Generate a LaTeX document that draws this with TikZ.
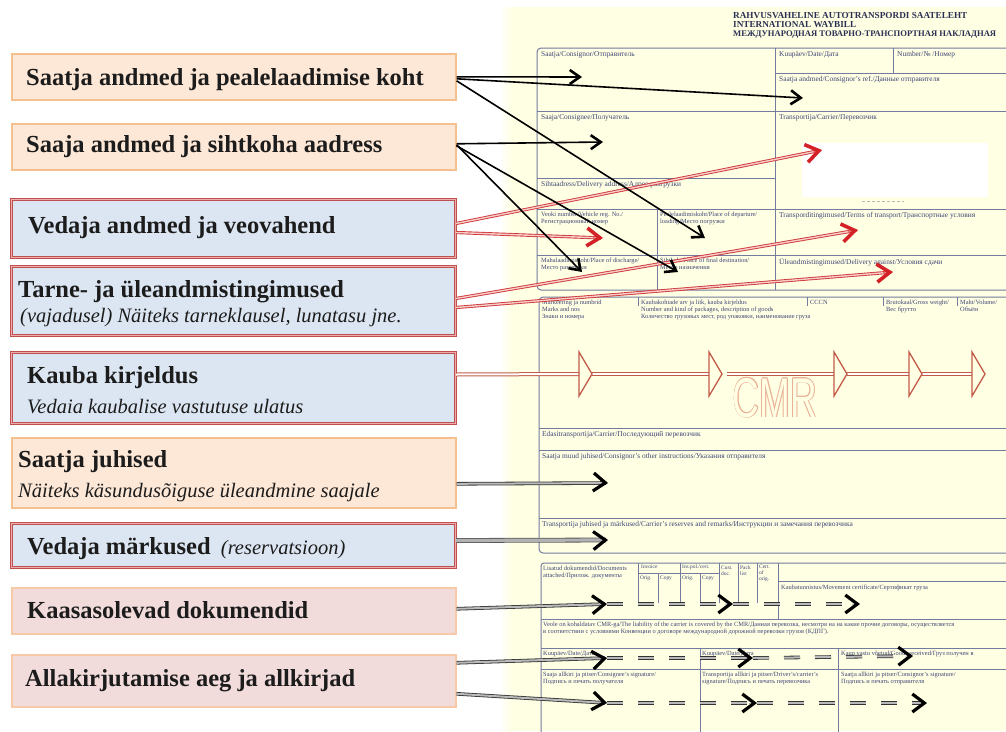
\documentclass[tikz,border=0pt]{standalone}
\usepackage{fontspec}
\setmainfont{Liberation Serif}
\setsansfont{Liberation Sans}
\usetikzlibrary{arrows.meta,calc}

\definecolor{peachfill}{HTML}{FDE7D6}
\definecolor{peachline}{HTML}{F6C08E}
\definecolor{bluefill}{HTML}{DCE6F2}
\definecolor{redline}{HTML}{C0504D}
\definecolor{redinner}{HTML}{EBB0AE}
\definecolor{pinkfill}{HTML}{F2DCDB}
\definecolor{pinkline}{HTML}{F7C9A6}
\definecolor{paper}{HTML}{FFFFE3}
\definecolor{formline}{HTML}{737B9E}
\definecolor{formtext}{HTML}{3F4676}
\definecolor{arrowred}{HTML}{D42027}
\definecolor{shaftred}{HTML}{D0393C}
\definecolor{redcore}{HTML}{F6CDC8}
\definecolor{goodsred}{HTML}{C25B4A}
\definecolor{cmrtint}{HTML}{EBB196}
\definecolor{ink}{HTML}{1C1C1C}

\begin{document}
\begin{tikzpicture}[x=1pt,y=-1pt,
  box/.style={anchor=north west, inner sep=0pt, minimum width=444pt},
  peachbox/.style={box, fill=peachfill, draw=peachline, line width=1.6pt},
  bluebox/.style={box, fill=bluefill, draw=redline, double=redinner, double distance=0.9pt, line width=1pt},
  pinkbox/.style={box, fill=pinkfill, draw=pinkline, line width=1.6pt},
  headtext/.style={anchor=base west, inner sep=0pt, text=ink, font=\bfseries\fontsize{24.5}{25}\selectfont},
  subtext/.style={anchor=base west, inner sep=0pt, text=ink, font=\itshape\fontsize{20.5}{21}\selectfont},
  formlabel/.style={anchor=north west, inner sep=0pt, text=formtext, align=left, font=\fontsize{6.4}{7}\selectfont},
  biglabel/.style={formlabel, font=\fontsize{7.4}{7.8}\selectfont},
  celllabel/.style={formlabel, font=\fontsize{5.4}{5.8}\selectfont},
  formtitle/.style={anchor=base west, inner sep=0pt, text=formtext!70!black, font=\bfseries\fontsize{9.2}{9.5}\selectfont},
  grid/.style={draw=formline, line width=1pt},
  cmrtext/.style={anchor=base, inner sep=0pt, xscale=0.66, font=\sffamily\fontsize{56}{56}\selectfont},
  blackarrow/.style={draw=black, line width=1.6pt, -{Straight Barb[length=10pt,width=14pt,line width=2.6pt]}},
  redshaft/.style={draw=shaftred, double=redcore, line width=0.9pt, double distance=1.4pt, shorten >=2pt},
  redtip/.style={draw=shaftred, line width=0.4pt, -{Straight Barb[length=13pt,width=18pt,line width=3.6pt,color=arrowred]}},
  grayshaft/.style={draw=black!80, double=gray!55, line width=0.8pt, double distance=2pt, shorten >=2pt},
  thickshaft/.style={draw=black!65, double=gray!60, line width=0.8pt, double distance=3.2pt, shorten >=2pt},
  graydash/.style={grayshaft, dash pattern=on 16pt off 15pt},
  blacktip/.style={draw=gray!55, line width=0.4pt, -{Straight Barb[length=12pt,width=18pt,line width=3.2pt,color=black]}},
  goodsshaft/.style={draw=goodsred, double=white, line width=1pt, double distance=2pt},
  goodstip/.style={draw=goodsred, line width=1.3pt, line join=miter},
]
\useasboundingbox (0,0) rectangle (1006,731);
\clip (0,0) rectangle (1006,731);

% ---------- waybill sheet ----------
\fill[white] (0,0) rectangle (1006,731);
\fill[paper] (512,7) rectangle (1006,731);
\shade[left color=white, right color=paper] (500,7) rectangle (512,731);

\node[formtitle] (title1) at (733,18) {RAHVUSVAHELINE AUTOTRANSPORDI SAATELEHT};
\node[formtitle] (title2) at (733,27) {INTERNATIONAL WAYBILL};
\node[formtitle, font=\bfseries\fontsize{8.6}{9}\selectfont] (title3) at (733,36) {МЕЖДУНАРОДНАЯ ТОВАРНО-ТРАНСПОРТНАЯ НАКЛАДНАЯ};

% section 1: parties and places
\draw[grid, rounded corners=4pt] (1015,48) -- (537,48) -- (537,290) -- (1015,290);
\draw[grid] (775,48) -- (775,290);
\draw[grid] (893,48) -- (893,73);
\draw[grid] (775,73) -- (1015,73);
\draw[grid] (537,111) -- (1015,111);
\draw[grid] (537,178) -- (775,178);
\draw[grid] (537,209) -- (1015,209);
\draw[grid] (657,209) -- (657,290);
\draw[grid] (537,255) -- (1015,255);
\fill[white] (802,143) rectangle (988,197);
\draw[gray!55, line width=1pt, dash pattern=on 3pt off 2pt] (862,201) -- (904,201);

\node[biglabel] (l-consignor) at (541,51) {Saatja/Consignor/Отправитель};
\node[biglabel] (l-date) at (779,51) {Kuupäev/Date/Дата};
\node[biglabel] (l-number) at (897,51) {Number/№ /Номер};
\node[biglabel] (l-ref) at (779,76) {Saatja andmed/Consignor's ref./Данные отправителя};
\node[biglabel] (l-consignee) at (541,114) {Saaja/Consignee/Получатель};
\node[biglabel] (l-carrier) at (779,114) {Transportija/Carrier/Перевозчик};
\node[biglabel] (l-address) at (541,181) {Sihtaadress/Delivery address/Адрес разгрузки};
\node[formlabel] (l-vehicle) at (541,212) {Veoki number/Vehicle reg. No./\\Регистрационный номер};
\node[formlabel] (l-loading) at (660,212) {Pealelaadimiskoht/Place of departure/\\loading/Место погрузки};
\node[biglabel] (l-terms) at (779,212) {Transporditingimused/Terms of transport/Транспортные условия};
\node[formlabel] (l-discharge) at (541,258) {Mahalaadimiskoht/Place of discharge/\\Место разгрузки};
\node[formlabel] (l-destination) at (660,258) {Sihtkoht/Place of final destination/\\Место назначения};
\node[biglabel] (l-delivery) at (779,258) {Üleandmistingimused/Delivery against/Условия сдачи};

% section 2: goods
\draw[grid, rounded corners=4pt] (1015,297) -- (539,297) -- (539,553) -- (1015,553);
\foreach \x in {638,807,883,957} \draw[grid] (\x,297) -- (\x,306);
\draw[grid] (539,428) -- (1015,428);
\draw[grid] (539,450) -- (1015,450);
\draw[grid] (539,518) -- (1015,518);

\node[formlabel] (l-marks) at (542,300) {Markeering ja numbrid\\Marks and nos\\Знаки и номера};
\node[formlabel] (l-goods) at (641,300) {Kaubakohtade arv ja liik, kauba kirjeldus\\Number and kind of packages, description of goods\\Количество грузовых мест, род упаковки, наименование груза};
\node[formlabel] (l-cccn) at (810,300) {CCCN};
\node[formlabel] (l-weight) at (886,300) {Brutokaal/Gross weight/\\Вес брутто};
\node[formlabel] (l-volume) at (960,300) {Maht/Volume/\\Объём};
\node[biglabel] (l-next) at (542,431) {Edasitransportija/Carrier/Последующий перевозчик};
\node[biglabel] (l-instr) at (542,453) {Saatja muud juhised/Consignor's other instructions/Указания отправителя};
\node[biglabel] (l-remarks) at (542,521) {Transportija juhised ja märkused/Carrier's reserves and remarks/Инструкции и замечания перевозчика};

% hollow CMR watermark
\coordinate (cmr) at (775,417);
\foreach \dx/\dy in {-0.7/0,0.7/0,0/-0.7,0/0.7,-0.5/-0.5,0.5/0.5,-0.5/0.5,0.5/-0.5}
  \node[cmrtext, text=cmrtint] at ($(cmr)+(\dx,\dy)$) {CMR};
\node[cmrtext, text=paper] (cmrmark) at (cmr) {CMR};

% section 3: documents, liability, signatures
\draw[grid, rounded corners=3pt] (1015,563) -- (541,563) -- (541,740);
\foreach \x in {638,680,719,738,757} \draw[grid] (\x,563) -- (\x,603);
\foreach \x in {658,700} \draw[grid] (\x,573) -- (\x,603);
\draw[grid] (638,573) -- (719,573);
\draw[grid] (778,563) -- (778,619);
\draw[grid] (778,581) -- (1015,581);
\draw[grid] (541,619) -- (1015,619);
\draw[grid] (541,648) -- (1015,648);
\draw[grid] (541,669) -- (1015,669);
\draw[grid] (700,648) -- (700,740);
\draw[grid] (838,648) -- (838,740);

\node[formlabel] (l-docs) at (543,566) {Lisatud dokumendid/Documents\\attached/Прилож. документы};
\node[celllabel] (l-invoice) at (641,565) {Invoice};
\node[celllabel] (l-inv-orig) at (640,576) {Orig.};
\node[celllabel] (l-inv-copy) at (660,576) {Copy};
\node[celllabel] (l-ins) at (682,565) {Ins.pol./cert.};
\node[celllabel] (l-ins-orig) at (682,576) {Orig.};
\node[celllabel] (l-ins-copy) at (702,576) {Copy};
\node[celllabel] (l-cust) at (721,566) {Cust.\\doc.};
\node[celllabel] (l-pack) at (740,566) {Pack\\list};
\node[celllabel] (l-cert) at (759,565) {Cert.\\of\\orig.};
\node[formlabel] (l-movement) at (781,585) {Kaubatunnistus/Movement certificate/Сертификат груза};
\node[formlabel] (l-liability) at (543,622) {Veole on kohaldatav CMR-ga/The liability of the carrier is covered by the CMR/Данная перевозка, несмотря на на какие прочие договоры, осуществляется\\в соответствии с условиями Конвенции о договоре международной дорожной перевозки грузов (КДПГ).};
\node[formlabel] (l-date1) at (543,651) {Kuupäev/Date/Дата};
\node[formlabel] (l-date2) at (702,651) {Kuupäev/Date/Дата};
\node[formlabel] (l-received) at (841,651) {Kaup vastu võetud/Goods received/Груз получен в};
\node[formlabel] (l-sign1) at (543,672) {Saaja allkiri ja pitser/Consignee's signature/\\Подпись и печать получателя};
\node[formlabel] (l-sign2) at (702,672) {Transportija allkiri ja pitser/Driver's/carrier's\\signature/Подпись и печать перевозчика};
\node[formlabel] (l-sign3) at (841,672) {Saatja allkiri ja pitser/Consignor's signature/\\Подпись и печать отправителя};

% ---------- explanation boxes ----------
\node[peachbox, minimum height=46pt] (b1) at (11,53) {};
\node[peachbox, minimum height=46pt] (b2) at (11,123) {};
\node[bluebox, minimum height=58pt] (b3) at (11,199) {};
\node[bluebox, minimum height=69pt] (b4) at (11,266) {};
\node[bluebox, minimum height=71pt] (b5) at (11,352) {};
\node[peachbox, minimum height=70pt] (b6) at (11,437) {};
\node[bluebox, minimum height=44pt] (b7) at (11,523) {};
\node[pinkbox, minimum height=46pt] (b8) at (11,587) {};
\node[pinkbox, minimum height=52pt] (b9) at (11,654) {};

\node[headtext] (t1) at (26,85) {Saatja andmed ja pealelaadimise koht};
\node[headtext] (t2) at (26,152) {Saaja andmed ja sihtkoha aadress};
\node[headtext] (t3) at (28,233) {Vedaja andmed ja veovahend};
\node[headtext] (t4) at (18,297) {Tarne- ja üleandmistingimused};
\node[subtext] (t4s) at (20,322) {(vajadusel) Näiteks tarneklausel, lunatasu jne.};
\node[headtext] (t5) at (27,383) {Kauba kirjeldus};
\node[subtext] (t5s) at (27,413) {Vedaia kaubalise vastutuse ulatus};
\node[headtext] (t6) at (18,467) {Saatja juhised};
\node[subtext] (t6s) at (18,497) {Näiteks käsundusõiguse üleandmine saajale};
\node[headtext] (t7) at (27,554) {Vedaja märkused \,{\itshape\mdseries\fontsize{20.5}{21}\selectfont (reservatsioon)}};
\node[headtext] (t8) at (27,618) {Kaasasolevad dokumendid};
\node[headtext] (t9) at (25,686) {Allakirjutamise aeg ja allkirjad};

% ---------- targets on the sheet ----------
\coordinate (consignor) at (582,77);
\coordinate (consref) at (803,98);
\coordinate (loading) at (705,238);
\coordinate (consignee) at (603,142);
\coordinate (discharge) at (582,272);
\coordinate (destination) at (678,272);
\coordinate (carrier) at (822,150);
\coordinate (vehicle) at (603,238);
\coordinate (terms) at (858,230);
\coordinate (delivery) at (893,272);
\coordinate (instr) at (608,483);
\coordinate (remarks) at (608,540);
\coordinate (docs1) at (607,604);
\coordinate (docs2) at (733,604);
\coordinate (docs3) at (860,604);
\coordinate (date1) at (607,658);
\coordinate (date2) at (753,658);
\coordinate (date3) at (913,656);
\coordinate (sign1) at (607,703);
\coordinate (sign2) at (757,703);
\coordinate (sign3) at (927,703);

% ---------- carrier arrows (red) ----------
\draw[redshaft] ($(b3.east)+(0,-5)$) -- (carrier);
\draw[redtip] ($(carrier)!10pt!(b3.east)$) -- (carrier);
\draw[redshaft] ($(b3.east)+(0,4)$) -- (vehicle);
\draw[redtip] ($(vehicle)!10pt!(b3.east)$) -- (vehicle);
\draw[redshaft] ($(b4.east)+(0,-2.5)$) -- (terms);
\draw[redtip] ($(terms)!10pt!(b4.east)$) -- (terms);
\draw[redshaft] ($(b4.east)+(0,6.5)$) -- (delivery);
\draw[redtip] ($(delivery)!10pt!(b4.east)$) -- (delivery);

% ---------- goods description arrow ----------
\foreach \i/\b/\a in {1/579/592,2/709/722,3/834/847,4/909/922,5/972/985} {
  \coordinate (gb\i) at (\b,374);
  \coordinate (ga\i) at (\a,374);
}
\draw[goodsshaft] ($(b5.east)+(0,-13.5)$) -- (gb1);
\draw[goodsshaft] (ga1) -- (gb2);
\draw[goodsshaft] ($(ga2)+(5,0)$) -- (gb3);
\draw[goodsshaft] (ga3) -- (gb4);
\draw[goodsshaft] (ga4) -- (gb5);
\foreach \i in {1,...,5}
  \draw[goodstip] ($(gb\i)+(0,-22)$) -- (ga\i) -- ($(gb\i)+(0,22)$) -- cycle;

% ---------- consignor / consignee arrows (black) ----------
\draw[blackarrow] (b1.east) -- (consignor);
\draw[blackarrow] ($(b1.east)+(0,2)$) -- (consref);
\draw[blackarrow] ($(b1.east)+(0,4)$) -- (loading);
\draw[blackarrow] ($(b2.east)+(0,-3)$) -- (consignee);
\draw[blackarrow] ($(b2.east)+(0,-2)$) -- (discharge);
\draw[blackarrow] ($(b2.east)+(0,-1)$) -- (destination);

% ---------- lower arrows (grey shafts) ----------
\draw[grayshaft] ($(b6.east)+(0,11)$) -- (instr);
\draw[blacktip] ($(instr)!8pt!(b6.east)$) -- (instr);
\draw[thickshaft] ($(b7.east)+(0,-5)$) -- (remarks);
\draw[blacktip] ($(remarks)!8pt!(b7.east)$) -- (remarks);

\draw[grayshaft] ($(b8.east)+(0,-2)$) -- (docs1);
\draw[blacktip] ($(docs1)!8pt!(b8.east)$) -- (docs1);
\draw[graydash] (docs1) -- (docs2);
\draw[blacktip] ($(docs2)!8pt!(docs1)$) -- (docs2);
\draw[graydash] (docs2) -- (docs3);
\draw[blacktip] ($(docs3)!8pt!(docs2)$) -- (docs3);

\draw[grayshaft] ($(b9.east)+(0,-18)$) -- (date1);
\draw[blacktip] ($(date1)!8pt!(b9.east)$) -- (date1);
\draw[graydash] (date1) -- (date2);
\draw[blacktip] ($(date2)!8pt!(date1)$) -- (date2);
\draw[graydash] (date2) -- (date3);
\draw[blacktip] ($(date3)!8pt!(date2)$) -- (date3);

\draw[grayshaft] ($(b9.east)+(0,13)$) -- (sign1);
\draw[blacktip] ($(sign1)!8pt!(b9.east)$) -- (sign1);
\draw[graydash] (sign1) -- (sign2);
\draw[blacktip] ($(sign2)!8pt!(sign1)$) -- (sign2);
\draw[graydash] (sign2) -- (sign3);
\draw[blacktip] ($(sign3)!8pt!(sign2)$) -- (sign3);
\end{tikzpicture}
\end{document}
